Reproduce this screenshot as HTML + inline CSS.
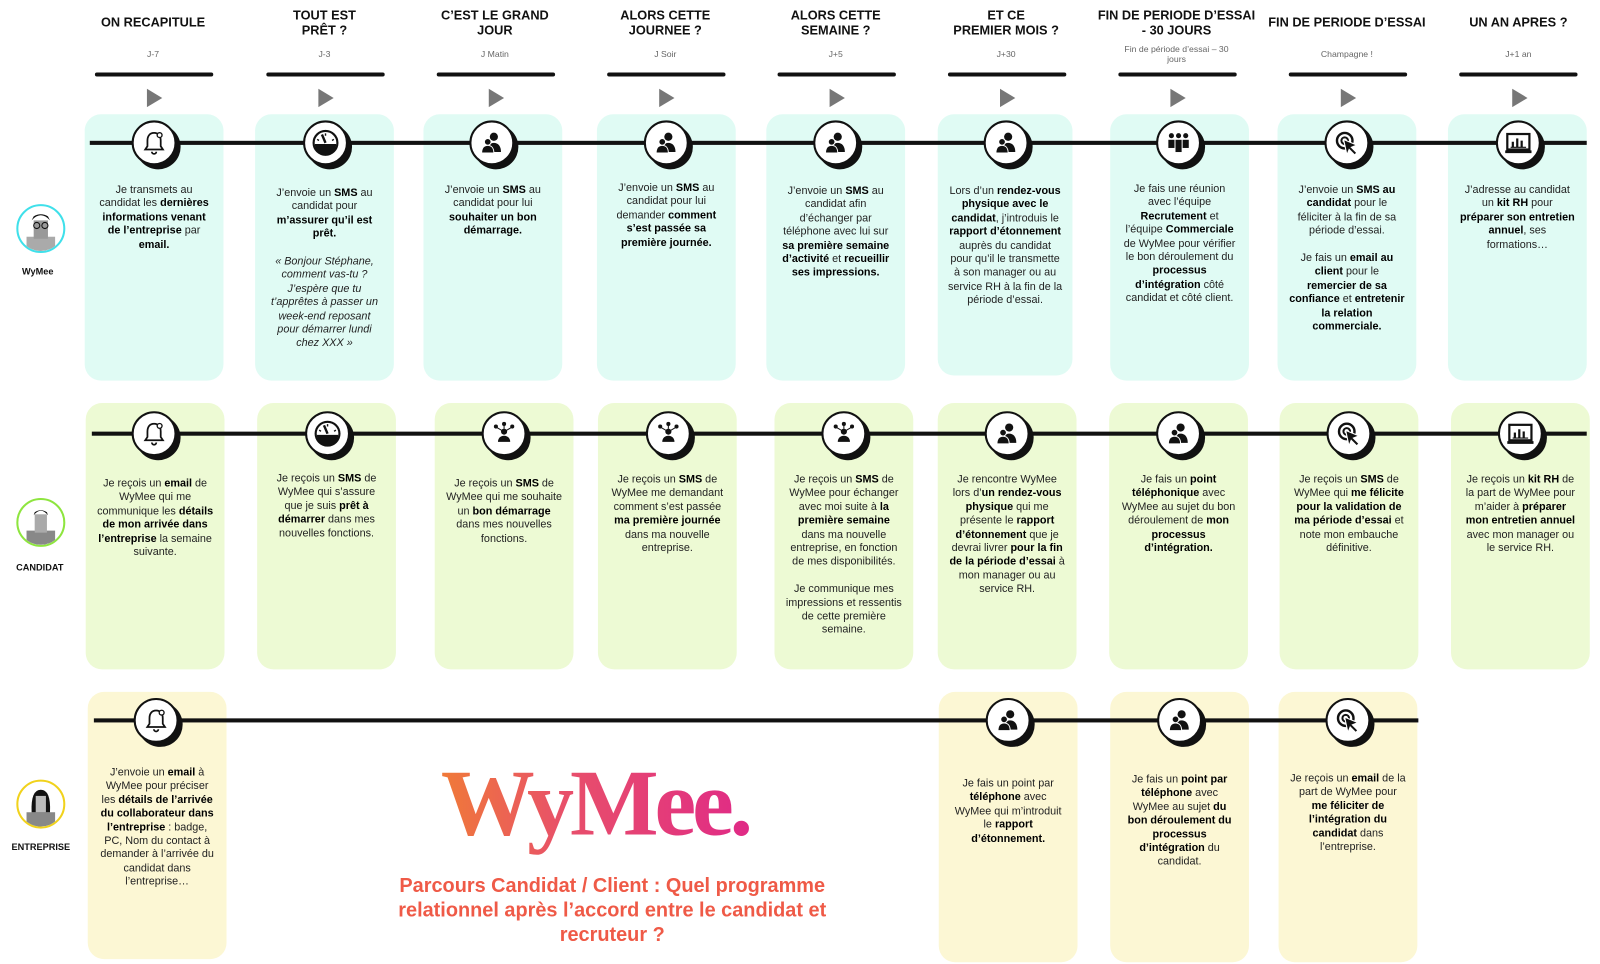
<!DOCTYPE html>
<html><head><meta charset="utf-8"><style>
*{margin:0;padding:0;box-sizing:border-box}
body{width:1600px;height:964px;background:#fff;position:relative;overflow:hidden;font-family:"Liberation Sans","DejaVu Sans",sans-serif;color:#111}
#w{position:absolute;left:0;top:0;width:1568px;height:945px;transform:scale(1.0204);transform-origin:0 0}
.h{position:absolute;width:150px;text-align:center;font-weight:bold;font-size:12.5px;line-height:15px;top:15px}
.s{position:absolute;width:150px;text-align:center;font-size:8.5px;color:#666;top:48px;line-height:10px}
.bar{position:absolute;width:116px;height:4px;background:#111;border-radius:2px;top:71px}
.tri{position:absolute;top:87px;width:0;height:0;border-left:15px solid #777;border-top:9px solid transparent;border-bottom:9px solid transparent}
.c{position:absolute;width:136px;height:261px;border-radius:16px}
.r1{background:#e0fbf4;top:112px}.r2{background:#edfad4;top:395px}.r3{background:#fcf7d4;top:678px}
.line{position:absolute;height:4px;background:#111}
.ic{position:absolute;width:44px;height:44px;border-radius:50%;background:#fff;border:2.5px solid #111;box-shadow:4px 4px 0 #111;display:flex;align-items:center;justify-content:center}
.t{position:absolute;width:114px;text-align:center;font-size:10.6px;line-height:13.4px;color:#222}
.t b{color:#000}
.av{position:absolute;width:48px;height:48px;border-radius:50%;background:#fff;overflow:hidden}
.lab{position:absolute;width:80px;text-align:center;font-size:9px;font-weight:bold}
</style></head><body><div id="w">
<svg width="0" height="0" style="position:absolute">
<defs>
<symbol id="bell" viewBox="0 0 24 24"><path d="M12 3c-4 0-6 3-6 7v5l-2 3h16l-2-3v-5c0-4-2-7-6-7z" fill="none" stroke="#111" stroke-width="1.6"/><path d="M10 20a2 2 0 0 0 4 0" fill="none" stroke="#111" stroke-width="1.6"/><circle cx="17" cy="5" r="2.2" fill="#fff" stroke="#111" stroke-width="1.2"/></symbol>
<symbol id="gauge" viewBox="0 0 24 24"><circle cx="12" cy="12" r="10" fill="none" stroke="#111" stroke-width="1.8"/><path d="M3 13h18a9 9 0 0 1-18 0z" fill="#111"/><path d="M12 12L9 5" stroke="#111" stroke-width="2"/><path d="M5 9l1.5 1M19 9l-1.5 1M12 4v2" stroke="#111" stroke-width="1.2"/></symbol>
<symbol id="ppl" viewBox="0 0 24 24"><circle cx="14" cy="6" r="4" fill="#111"/><path d="M7 21c0-6 3-9 7-9s7 3 7 9z" fill="#111"/><circle cx="8" cy="11" r="3.3" fill="#111" stroke="#fff" stroke-width="1"/><path d="M2 22c0-5 2.5-7.5 6-7.5s6 2.5 6 7.5z" fill="#111" stroke="#fff" stroke-width="1"/></symbol>
<symbol id="grp" viewBox="0 0 24 24"><circle cx="5" cy="5" r="2.5" fill="#111"/><circle cx="12" cy="5" r="2.5" fill="#111"/><circle cx="19" cy="5" r="2.5" fill="#111"/><rect x="2" y="9" width="6" height="8" fill="#111"/><rect x="9" y="9" width="6" height="12" fill="#111"/><rect x="16" y="9" width="6" height="8" fill="#111"/></symbol>
<symbol id="net" viewBox="0 0 24 24"><circle cx="12" cy="10" r="3" fill="#111"/><path d="M6 20c0-4 3-6 6-6s6 2 6 6z" fill="#111"/><circle cx="4" cy="5" r="2" fill="#111"/><circle cx="12" cy="2.5" r="2" fill="#111"/><circle cx="20" cy="5" r="2" fill="#111"/><path d="M5 6l5 3M12 4v3M19 6l-5 3" stroke="#111"/></symbol>
<symbol id="cur" viewBox="0 0 24 24"><circle cx="10" cy="10" r="7" fill="none" stroke="#111" stroke-width="2.2"/><circle cx="10" cy="10" r="3" fill="none" stroke="#111" stroke-width="1.8"/><path d="M9 9l12 5-5 2 5 5-2 2-5-5-2 5z" fill="#111" stroke="#fff" stroke-width="1"/></symbol>
<symbol id="chart" viewBox="0 0 24 24"><rect x="2" y="4" width="20" height="14" fill="none" stroke="#111" stroke-width="2"/><path d="M0 20h24" stroke="#111" stroke-width="2.5"/><rect x="6" y="11" width="2" height="5" fill="#111"/><rect x="10" y="8" width="2" height="8" fill="#111"/><rect x="14" y="10" width="2" height="6" fill="#111"/><path d="M5 16h14" stroke="#111"/></symbol>
</defs></svg>

<!-- headers -->
<div class="h" style="left:75px;top:15px">ON RECAPITULE</div><div class="s" style="left:75px">J-7</div>
<div class="h" style="left:243px;top:8px">TOUT EST<br>PRÊT ?</div><div class="s" style="left:243px">J-3</div>
<div class="h" style="left:410px;top:8px">C’EST LE GRAND<br>JOUR</div><div class="s" style="left:410px">J Matin</div>
<div class="h" style="left:577px;top:8px">ALORS CETTE<br>JOURNEE ?</div><div class="s" style="left:577px">J Soir</div>
<div class="h" style="left:744px;top:8px">ALORS CETTE<br>SEMAINE ?</div><div class="s" style="left:744px">J+5</div>
<div class="h" style="left:911px;top:8px">ET CE<br>PREMIER MOIS ?</div><div class="s" style="left:911px">J+30</div>
<div class="h" style="left:1068px;top:8px;width:170px">FIN DE PERIODE D’ESSAI<br>- 30 JOURS</div><div class="s" style="left:1078px;top:43px">Fin de période d’essai – 30<br>jours</div>
<div class="h" style="left:1233px;top:15px;width:174px">FIN DE PERIODE D’ESSAI</div><div class="s" style="left:1245px">Champagne !</div>
<div class="h" style="left:1413px;top:15px">UN AN APRES ?</div><div class="s" style="left:1413px">J+1 an</div>

<div class="bar" style="left:93px"></div><div class="bar" style="left:261px"></div><div class="bar" style="left:428px"></div><div class="bar" style="left:595px"></div><div class="bar" style="left:762px"></div><div class="bar" style="left:929px"></div><div class="bar" style="left:1096px"></div><div class="bar" style="left:1263px"></div><div class="bar" style="left:1430px"></div>
<div class="tri" style="left:144px"></div><div class="tri" style="left:312px"></div><div class="tri" style="left:479px"></div><div class="tri" style="left:646px"></div><div class="tri" style="left:813px"></div><div class="tri" style="left:980px"></div><div class="tri" style="left:1147px"></div><div class="tri" style="left:1314px"></div><div class="tri" style="left:1482px"></div>

<!-- cards -->
<div class="c r1" style="left:83px"></div><div class="c r1" style="left:250px"></div><div class="c r1" style="left:415px"></div><div class="c r1" style="left:585px"></div><div class="c r1" style="left:751px"></div><div class="c r1" style="left:919px;width:132px;height:256px"></div><div class="c r1" style="left:1088px"></div><div class="c r1" style="left:1252px"></div><div class="c r1" style="left:1419px"></div>
<div class="c r2" style="left:84px"></div><div class="c r2" style="left:252px"></div><div class="c r2" style="left:426px"></div><div class="c r2" style="left:586px"></div><div class="c r2" style="left:759px"></div><div class="c r2" style="left:919px"></div><div class="c r2" style="left:1087px"></div><div class="c r2" style="left:1254px"></div><div class="c r2" style="left:1422px"></div>
<div class="c r3" style="left:86px;height:262px"></div><div class="c r3" style="left:920px;height:265px"></div><div class="c r3" style="left:1088px;height:265px"></div><div class="c r3" style="left:1253px;height:265px"></div>

<div class="line" style="left:88px;width:1467px;top:138px"></div>
<div class="line" style="left:90px;width:1465px;top:423px"></div>
<div class="line" style="left:92px;width:1298px;top:704px"></div>

<!-- icons row1 -->
<div class="ic" style="left:129px;top:118px"><svg width="26" height="26"><use href="#bell"/></svg></div>
<div class="ic" style="left:297px;top:118px"><svg width="28" height="28"><use href="#gauge"/></svg></div>
<div class="ic" style="left:460px;top:118px"><svg width="24" height="24"><use href="#ppl"/></svg></div>
<div class="ic" style="left:631px;top:118px"><svg width="24" height="24"><use href="#ppl"/></svg></div>
<div class="ic" style="left:797px;top:118px"><svg width="24" height="24"><use href="#ppl"/></svg></div>
<div class="ic" style="left:964px;top:118px"><svg width="24" height="24"><use href="#ppl"/></svg></div>
<div class="ic" style="left:1133px;top:118px"><svg width="24" height="24"><use href="#grp"/></svg></div>
<div class="ic" style="left:1298px;top:118px"><svg width="26" height="26"><use href="#cur"/></svg></div>
<div class="ic" style="left:1466px;top:118px"><svg width="26" height="26"><use href="#chart"/></svg></div>
<!-- icons row2 -->
<div class="ic" style="left:129px;top:403px"><svg width="26" height="26"><use href="#bell"/></svg></div>
<div class="ic" style="left:299px;top:403px"><svg width="28" height="28"><use href="#gauge"/></svg></div>
<div class="ic" style="left:472px;top:403px"><svg width="24" height="24"><use href="#net"/></svg></div>
<div class="ic" style="left:633px;top:403px"><svg width="24" height="24"><use href="#net"/></svg></div>
<div class="ic" style="left:805px;top:403px"><svg width="24" height="24"><use href="#net"/></svg></div>
<div class="ic" style="left:965px;top:403px"><svg width="24" height="24"><use href="#ppl"/></svg></div>
<div class="ic" style="left:1133px;top:403px"><svg width="24" height="24"><use href="#ppl"/></svg></div>
<div class="ic" style="left:1300px;top:403px"><svg width="26" height="26"><use href="#cur"/></svg></div>
<div class="ic" style="left:1468px;top:403px"><svg width="26" height="26"><use href="#chart"/></svg></div>
<!-- icons row3 -->
<div class="ic" style="left:131px;top:684px"><svg width="26" height="26"><use href="#bell"/></svg></div>
<div class="ic" style="left:966px;top:684px"><svg width="24" height="24"><use href="#ppl"/></svg></div>
<div class="ic" style="left:1134px;top:684px"><svg width="24" height="24"><use href="#ppl"/></svg></div>
<div class="ic" style="left:1299px;top:684px"><svg width="26" height="26"><use href="#cur"/></svg></div>

<!-- row1 texts -->
<div class="t" style="left:94px;top:180px">Je transmets au candidat les <b>dernières informations venant de l’entreprise</b> par <b>email.</b></div>
<div class="t" style="left:261px;top:183px">J’envoie un <b>SMS</b> au candidat pour <b>m’assurer qu’il est prêt.</b><br><br><i>« Bonjour Stéphane, comment vas-tu ? J’espère que tu t’apprêtes à passer un week-end reposant pour démarrer lundi chez XXX »</i></div>
<div class="t" style="left:426px;top:180px">J’envoie un <b>SMS</b> au candidat pour lui <b>souhaiter un bon démarrage.</b></div>
<div class="t" style="left:596px;top:178px">J’envoie un <b>SMS</b> au candidat pour lui demander <b>comment s’est passée sa première journée.</b></div>
<div class="t" style="left:762px;top:181px">J’envoie un <b>SMS</b> au candidat afin d’échanger par téléphone avec lui sur <b>sa première semaine d’activité</b> et <b>recueillir ses impressions.</b></div>
<div class="t" style="left:928px;top:181px">Lors d’un <b>rendez-vous physique avec le candidat</b>, j’introduis le <b>rapport d’étonnement</b> auprès du candidat pour qu’il le transmette à son manager ou au service RH à la fin de la période d’essai.</div>
<div class="t" style="left:1099px;top:179px">Je fais une réunion avec l’équipe <b>Recrutement</b> et l’équipe <b>Commerciale</b> de WyMee pour vérifier le bon déroulement du <b>processus d’intégration</b> côté candidat et côté client.</div>
<div class="t" style="left:1263px;top:180px">J’envoie un <b>SMS au candidat</b> pour le féliciter à la fin de sa période d’essai.<br><br>Je fais un <b>email au client</b> pour le <b>remercier de sa confiance</b> et <b>entretenir la relation commerciale.</b></div>
<div class="t" style="left:1430px;top:180px">J’adresse au candidat un <b>kit RH</b> pour <b>préparer son entretien annuel</b>, ses formations…</div>

<!-- row2 texts -->
<div class="t" style="left:95px;top:468px">Je reçois un <b>email</b> de WyMee qui me communique les <b>détails de mon arrivée dans l’entreprise</b> la semaine suivante.</div>
<div class="t" style="left:263px;top:463px">Je reçois un <b>SMS</b> de WyMee qui s’assure que je suis <b>prêt à démarrer</b> dans mes nouvelles fonctions.</div>
<div class="t" style="left:437px;top:468px">Je reçois un <b>SMS</b> de WyMee qui me souhaite un <b>bon démarrage</b> dans mes nouvelles fonctions.</div>
<div class="t" style="left:597px;top:464px">Je reçois un <b>SMS</b> de WyMee me demandant comment s’est passée <b>ma première journée</b> dans ma nouvelle entreprise.</div>
<div class="t" style="left:770px;top:464px">Je reçois un <b>SMS</b> de WyMee pour échanger avec moi suite à <b>la première semaine</b> dans ma nouvelle entreprise, en fonction de mes disponibilités.<br><br>Je communique mes impressions et ressentis de cette première semaine.</div>
<div class="t" style="left:930px;top:464px">Je rencontre WyMee lors d’<b>un rendez-vous physique</b> qui me présente le <b>rapport d’étonnement</b> que je devrai livrer <b>pour la fin de la période d’essai</b> à mon manager ou au service RH.</div>
<div class="t" style="left:1098px;top:464px">Je fais un <b>point téléphonique</b> avec WyMee au sujet du bon déroulement de <b>mon processus d’intégration.</b></div>
<div class="t" style="left:1265px;top:464px">Je reçois un <b>SMS</b> de WyMee qui <b>me félicite pour la validation de ma période d’essai</b> et note mon embauche définitive.</div>
<div class="t" style="left:1433px;top:464px">Je reçois un <b>kit RH</b> de la part de WyMee pour m’aider à <b>préparer mon entretien annuel</b> avec mon manager ou le service RH.</div>

<!-- row3 texts -->
<div class="t" style="left:97px;top:751px">J’envoie un <b>email</b> à WyMee pour préciser les <b>détails de l’arrivée du collaborateur dans l’entreprise</b> : badge, PC, Nom du contact à demander à l’arrivée du candidat dans l’entreprise…</div>
<div class="t" style="left:931px;top:762px">Je fais un point par <b>téléphone</b> avec WyMee qui m’introduit le <b>rapport d’étonnement.</b></div>
<div class="t" style="left:1099px;top:758px">Je fais un <b>point par téléphone</b> avec WyMee au sujet <b>du bon déroulement du processus d’intégration</b> du candidat.</div>
<div class="t" style="left:1264px;top:757px">Je reçois un <b>email</b> de la part de WyMee pour <b>me féliciter de l’intégration du candidat</b> dans l’entreprise.</div>

<!-- avatars -->
<div class="av" style="left:16px;top:200px;border:2px solid #3fe0ea"><svg width="44" height="44"><rect x="8" y="30" width="28" height="14" fill="#aaa"/><rect x="15" y="14" width="14" height="18" fill="#999"/><path d="M13 14 Q22 4 31 14 L29 10 Q22 6 15 10Z" fill="#111"/><circle cx="18" cy="19" r="3" fill="none" stroke="#111"/><circle cx="26" cy="19" r="3" fill="none" stroke="#111"/></svg></div>
<div class="lab" style="left:-3px;top:261px">WyMee</div>
<div class="av" style="left:16px;top:488px;border:2px solid #8ee53f"><svg width="44" height="44"><rect x="8" y="30" width="28" height="14" fill="#888"/><rect x="16" y="14" width="12" height="18" fill="#aaa"/><path d="M15 15 Q22 6 29 15 L28 12 Q22 8 16 12Z" fill="#111"/></svg></div>
<div class="lab" style="left:-1px;top:551px">CANDIDAT</div>
<div class="av" style="left:16px;top:764px;border:2px solid #f1d21c"><svg width="44" height="44"><rect x="8" y="30" width="28" height="14" fill="#888"/><path d="M13 30 Q12 8 22 8 Q32 8 31 30Z" fill="#111"/><rect x="17" y="14" width="10" height="16" fill="#bbb"/></svg></div>
<div class="lab" style="left:0px;top:825px">ENTREPRISE</div>

<!-- logo -->
<div style="position:absolute;left:432px;top:732px;font-family:'Liberation Serif',serif;font-weight:bold;font-size:92px;line-height:110px;letter-spacing:-4px;background:linear-gradient(90deg,#f07a38,#e8506a 40%,#e02a86);-webkit-background-clip:text;background-clip:text;color:transparent">WyMee.</div>
<div style="position:absolute;left:360px;top:856px;width:480px;text-align:center;font-weight:bold;font-size:19.5px;line-height:24px;color:#ef5a47">Parcours Candidat / Client : Quel programme relationnel après l’accord entre le candidat et recruteur ?</div>
</div></body></html>
